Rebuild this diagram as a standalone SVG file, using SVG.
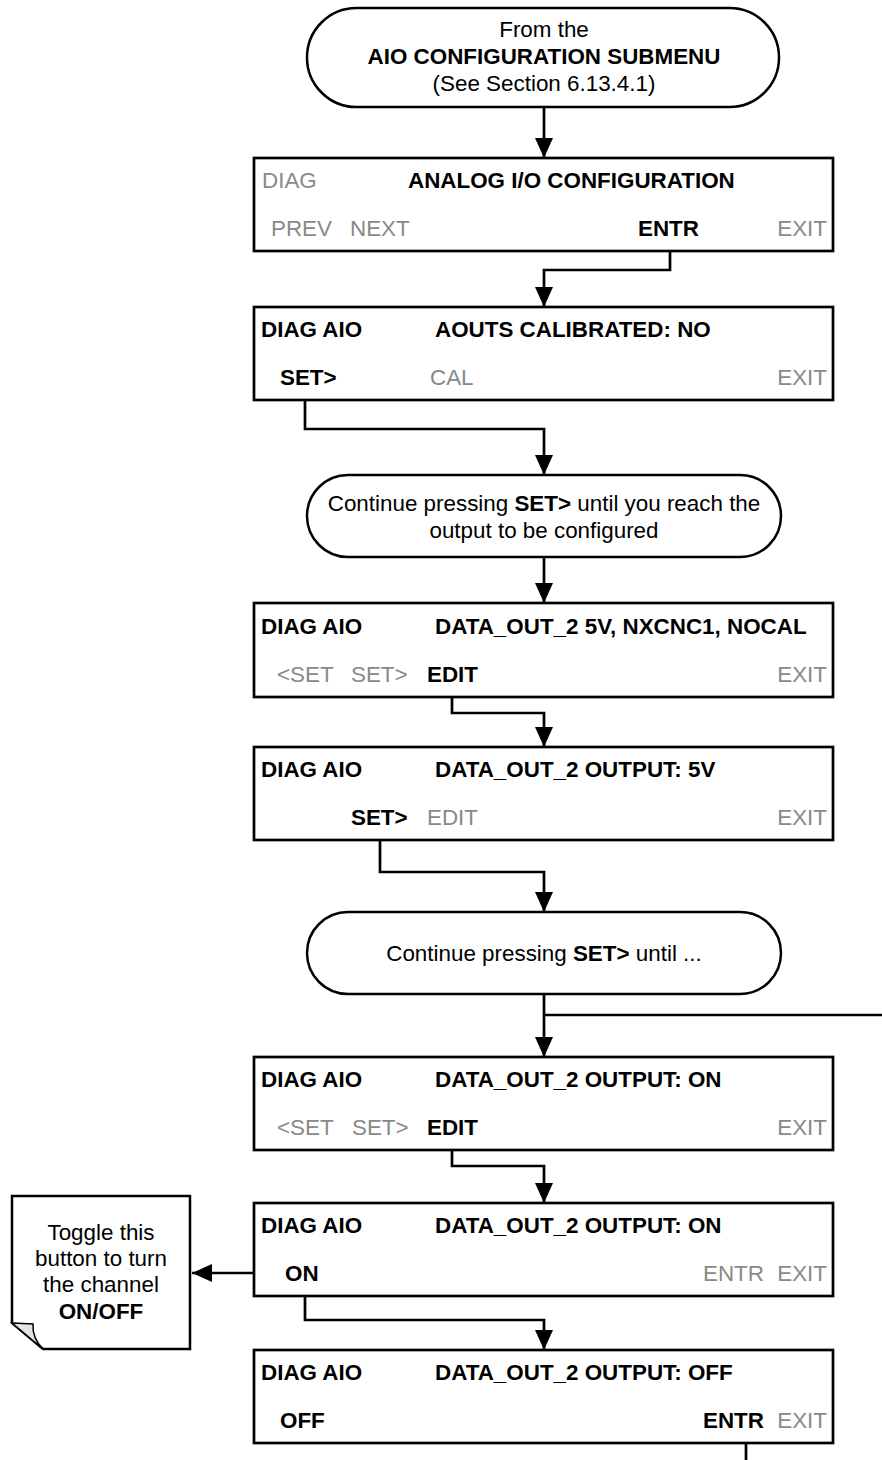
<svg xmlns="http://www.w3.org/2000/svg" width="882" height="1460" viewBox="0 0 882 1460">
<style>
text{font-family:"Liberation Sans",Arial,sans-serif;font-size:22.4px;fill:#000}
.b{font-weight:bold}
.g{fill:#898989}
.c{text-anchor:middle}
.e{text-anchor:end}
.box{fill:#fff;stroke:#000;stroke-width:2.7}
.term{fill:#fff;stroke:#000;stroke-width:2.5}
.ln{fill:none;stroke:#000;stroke-width:2.7}
</style>
<defs>
<marker id="ah" markerUnits="userSpaceOnUse" markerWidth="20" markerHeight="18" refX="20" refY="9" orient="auto" viewBox="0 0 20 18">
<path d="M0,0 L20,9 L0,18 Z" fill="#000"/>
</marker>
</defs>

<g id="connectors">
<path class="ln" d="M544,107 V158" marker-end="url(#ah)"/>
<path class="ln" d="M670,251 V270 H544 V307" marker-end="url(#ah)"/>
<path class="ln" d="M305,390 V429 H544 V475" marker-end="url(#ah)"/>
<path class="ln" d="M544,557 V603" marker-end="url(#ah)"/>
<path class="ln" d="M452,689 V713 H544 V747" marker-end="url(#ah)"/>
<path class="ln" d="M380,830 V872 H544 V912" marker-end="url(#ah)"/>
<path class="ln" d="M544,994 V1057" marker-end="url(#ah)"/>
<path class="ln" d="M882,1015 H544"/>
<path class="ln" d="M452,1140 V1166 H544 V1203" marker-end="url(#ah)"/>
<path class="ln" d="M265,1273 H192" marker-end="url(#ah)"/>
<path class="ln" d="M305,1287 V1320 H544 V1350" marker-end="url(#ah)"/>
<path class="ln" d="M746,1443 V1460"/>
</g>

<g id="start">
<rect class="term" x="307" y="8" width="472" height="99" rx="49.5"/>
<text class="c" x="544" y="36.5">From the</text>
<text class="c b" x="544" y="64">AIO CONFIGURATION SUBMENU</text>
<text class="c" x="544" y="91">(See Section 6.13.4.1)</text>
</g>

<g id="box1">
<rect class="box" x="254" y="158" width="579" height="93"/>
<text class="g" x="262" y="188">DIAG</text>
<text class="b" x="408" y="188">ANALOG I/O CONFIGURATION</text>
<text class="g" x="271" y="236">PREV</text>
<text class="g" x="350" y="236">NEXT</text>
<text class="b" x="638" y="236">ENTR</text>
<text class="g e" x="827" y="236">EXIT</text>
</g>

<g id="box2">
<rect class="box" x="254" y="307" width="579" height="93"/>
<text class="b" x="261" y="337">DIAG AIO</text>
<text class="b" x="435" y="337">AOUTS CALIBRATED: NO</text>
<text class="b" x="280" y="385">SET&gt;</text>
<text class="g" x="430" y="385">CAL</text>
<text class="g e" x="827" y="385">EXIT</text>
</g>

<g id="term2">
<rect class="term" x="307" y="475" width="474" height="82" rx="41"/>
<text class="c" x="544" y="511">Continue pressing <tspan class="b">SET&gt;</tspan> until you reach the</text>
<text class="c" x="544" y="538">output to be configured</text>
</g>

<g id="box3">
<rect class="box" x="254" y="603" width="579" height="94"/>
<text class="b" x="261" y="634">DIAG AIO</text>
<text class="b" x="435" y="634">DATA_OUT_2 5V, NXCNC1, NOCAL</text>
<text class="g" x="277" y="682">&lt;SET</text>
<text class="g" x="351" y="682">SET&gt;</text>
<text class="b" x="427" y="682">EDIT</text>
<text class="g e" x="827" y="682">EXIT</text>
</g>

<g id="box4">
<rect class="box" x="254" y="747" width="579" height="93"/>
<text class="b" x="261" y="777">DIAG AIO</text>
<text class="b" x="435" y="777">DATA_OUT_2 OUTPUT: 5V</text>
<text class="b" x="351" y="825">SET&gt;</text>
<text class="g" x="427" y="825">EDIT</text>
<text class="g e" x="827" y="825">EXIT</text>
</g>

<g id="term3">
<rect class="term" x="307" y="912" width="474" height="82" rx="41"/>
<text class="c" x="544" y="961">Continue pressing <tspan class="b">SET&gt;</tspan> until ...</text>
</g>

<g id="box5">
<rect class="box" x="254" y="1057" width="579" height="93"/>
<text class="b" x="261" y="1087">DIAG AIO</text>
<text class="b" x="435" y="1087">DATA_OUT_2 OUTPUT: ON</text>
<text class="g" x="277" y="1135">&lt;SET</text>
<text class="g" x="352" y="1135">SET&gt;</text>
<text class="b" x="427" y="1135">EDIT</text>
<text class="g e" x="827" y="1135">EXIT</text>
</g>

<g id="box6">
<rect class="box" x="254" y="1203" width="579" height="93"/>
<text class="b" x="261" y="1233">DIAG AIO</text>
<text class="b" x="435" y="1233">DATA_OUT_2 OUTPUT: ON</text>
<text class="b" x="285" y="1281">ON</text>
<text class="g" x="703" y="1281">ENTR</text>
<text class="g e" x="827" y="1281">EXIT</text>
</g>

<g id="box7">
<rect class="box" x="254" y="1350" width="579" height="93"/>
<text class="b" x="261" y="1380">DIAG AIO</text>
<text class="b" x="435" y="1380">DATA_OUT_2 OUTPUT: OFF</text>
<text class="b" x="280" y="1428">OFF</text>
<text class="b" x="703" y="1428">ENTR</text>
<text class="g e" x="827" y="1428">EXIT</text>
</g>

<g id="note">
<path d="M12,1196 H190 V1349 H43 L12,1323 Z" fill="#fff" stroke="#000" stroke-width="2.5" stroke-linejoin="miter"/>
<path d="M12,1323 L33,1324 Q32,1338 43,1349 Z" fill="#e3e3e3" stroke="#000" stroke-width="1.5"/>
<text class="c" x="101" y="1240">Toggle this</text>
<text class="c" x="101" y="1266">button to turn</text>
<text class="c" x="101" y="1292">the channel</text>
<text class="c b" x="101" y="1319">ON/OFF</text>
</g>
</svg>
